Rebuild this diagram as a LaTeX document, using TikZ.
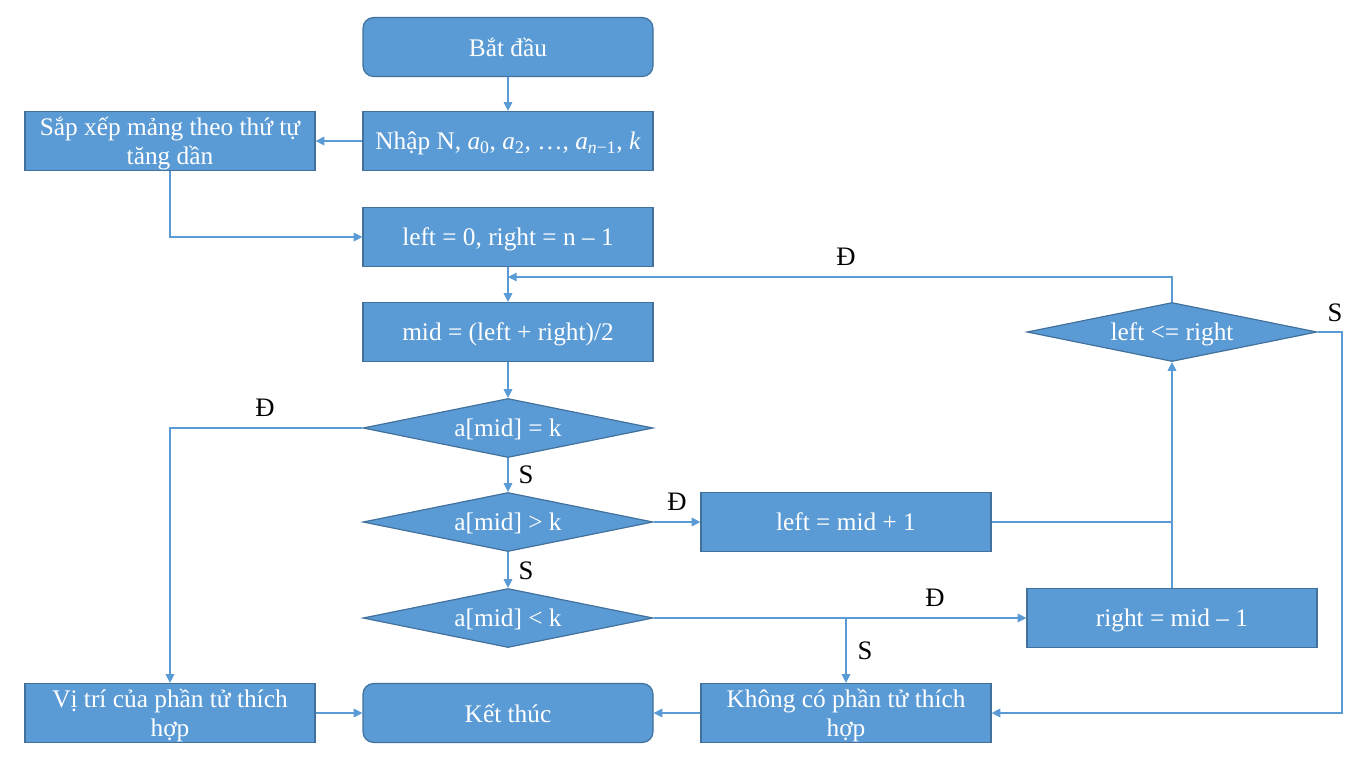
\documentclass[tikz,border=0pt]{standalone}
\usepackage{fontspec}
\setmainfont{Liberation Serif}
\usetikzlibrary{positioning, shapes.geometric, arrows.meta}
\definecolor{boxblue}{HTML}{5B9BD5}
\definecolor{boxline}{HTML}{41719C}
\newcommand{\vname}[2]{\textit{#1}\textsubscript{#2}}
\begin{document}
\begin{tikzpicture}[x=0.75pt, y=-0.75pt,
  font = \fontsize{19}{21.75}\selectfont,
  block/.style = { rectangle, fill = boxblue, draw = boxline, line width = 0.9pt, text = white,
    minimum width = 217.5pt, minimum height = 44.25pt, inner sep = 0pt, align = center, text depth = 0pt},
  terminal/.style = { block, rounded corners = 8pt},
  decision/.style = { diamond, aspect = 4.9, fill = boxblue, draw = boxline, line width = 0.9pt,
    text = white, minimum width = 217.5pt, minimum height = 44.25pt, inner sep = 0pt, text depth = 0pt},
  flow/.style = { draw = boxblue, line width = 0.8pt, -{Triangle[length = 6.5pt, width = 6.5pt]}},
  wire/.style = { draw = boxblue, line width = 0.8pt},
  answer/.style = { text = black, inner sep = 0pt, font = \fontsize{20}{22}\selectfont}]
\useasboundingbox (0,0) rectangle (1366,768);
% boxes
\node[terminal] (start) at (508,47) {Bắt đầu};
\node[block] (input) at (508,141) {Nhập N, \vname{a}{0}, \vname{a}{2}, …, \vname{a}{\textit{n}−1}, \textit{k}};
\node[block] (sort) at (170,141) {Sắp xếp mảng theo thứ tự\\tăng dần};
\node[block] (init) at (508,237) {left = 0, right = n -- 1};
\node[block] (mid) at (508,332) {mid = (left + right)/2};
\node[decision] (eq) at (508,428) {a[mid] = k};
\node[decision] (gt) at (508,522) {a[mid] > k};
\node[decision] (lt) at (508,618) {a[mid] < k};
\node[block] (incl) at (846,522) {left = mid + 1};
\node[block] (decr) at (1172,618) {right = mid -- 1};
\node[decision] (check) at (1172,332) {left <= right};
\node[block] (found) at (170,713) {Vị trí của phần tử thích\\hợp};
\node[terminal] (stop) at (508,713) {Kết thúc};
\node[block] (none) at (846,713) {Không có phần tử thích\\hợp};
% helper points
\coordinate (loopin) at (508,277);
\coordinate (split) at (846,618);
\coordinate (join) at (1172,522);
\coordinate (outS) at (1342,332);
% connectors
\draw[flow] (start) -- (input);
\draw[flow] (input) -- (sort);
\draw[flow] (sort.south) |- (init.west);
\draw[flow] (init) -- (mid);
\draw[flow] (check.north) |- (loopin);
\draw[flow] (mid) -- (eq);
\draw[flow] (eq.west) -| (found.north);
\draw[flow] (eq) -- (gt);
\draw[flow] (gt) -- (incl);
\draw[flow] (gt) -- (lt);
\draw[flow] (lt) -- (decr);
\draw[flow] (split) -- (none.north);
\draw[wire] (incl.east) -- (join);
\draw[flow] (decr.north) -- (check.south);
\draw[flow] (check.east) -- (outS) |- (none.east);
\draw[flow] (found) -- (stop);
\draw[flow] (none) -- (stop);
% labels
\node[answer] at (846,257) {Đ};
\node[answer] at (265,408) {Đ};
\node[answer] at (526,475) {S};
\node[answer] at (677,502) {Đ};
\node[answer] at (526,571) {S};
\node[answer] at (935,598) {Đ};
\node[answer] at (865,651) {S};
\node[answer] at (1335,313) {S};
\end{tikzpicture}
\end{document}
